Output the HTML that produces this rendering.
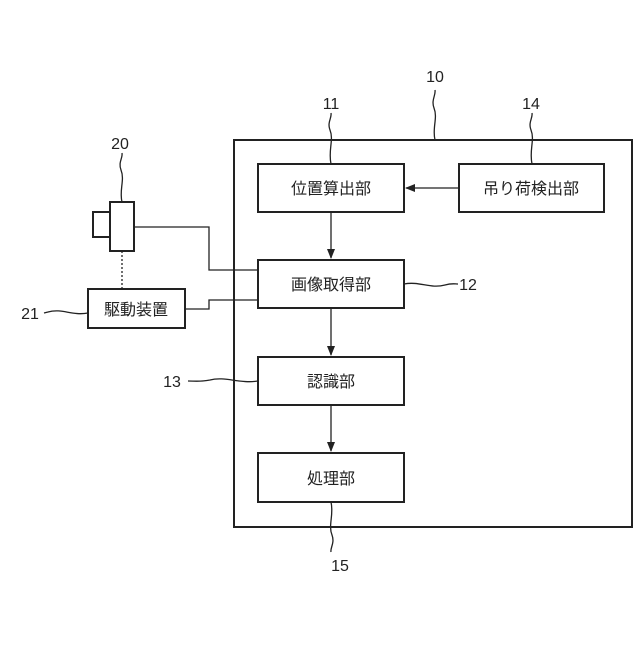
<!DOCTYPE html>
<html><head><meta charset="utf-8"><style>
body{margin:0;background:#fff}
svg text{font-family:"Liberation Sans","Noto Sans CJK JP",sans-serif;fill:#222}
</style></head><body>
<svg width="640" height="640" viewBox="0 0 640 640" xmlns="http://www.w3.org/2000/svg">
<defs><marker id="a" markerWidth="10" markerHeight="8" refX="9" refY="4" orient="auto" markerUnits="userSpaceOnUse"><path d="M0,0 L10,4 L0,8 z" fill="#222"/></marker></defs>
<g fill="none" stroke="#222" stroke-width="2">
<rect x="234" y="140" width="398" height="387"/>
<rect x="258" y="164" width="146" height="48"/>
<rect x="459" y="164" width="145" height="48"/>
<rect x="258" y="260" width="146" height="48"/>
<rect x="258" y="357" width="146" height="48"/>
<rect x="258" y="453" width="146" height="49"/>
<rect x="110" y="202" width="24" height="49"/>
<rect x="93" y="212" width="17" height="25"/>
<rect x="88" y="289" width="97" height="39"/>
</g>
<g fill="none" stroke="#222" stroke-width="1.3">
<line x1="459" y1="188" x2="406" y2="188" marker-end="url(#a)"/>
<line x1="331" y1="212" x2="331" y2="258" marker-end="url(#a)"/>
<line x1="331" y1="308" x2="331" y2="355" marker-end="url(#a)"/>
<line x1="331" y1="405" x2="331" y2="451" marker-end="url(#a)"/>
<polyline points="134,227 209,227 209,270 258,270"/>
<polyline points="185,309 209,309 209,300 258,300"/>
<line x1="122" y1="251" x2="122" y2="289" stroke-dasharray="2,2"/>
<path d="M435,140 C432,128 438,118 434,108 C431,100 436,95 435,90"/>
<path d="M331,164 C328,150 334,140 330,130 C327,122 332,118 331,113"/>
<path d="M532,164 C529,150 535,140 531,130 C528,122 533,118 532,113"/>
<path d="M122,202 C119,190 125,180 121,170 C118,162 123,158 122,153"/>
<path d="M404,284 C420,281 430,289 445,285 C452,283 455,284 458,284"/>
<path d="M88,313 C72,316 62,308 48,312 L44,313" />
<path d="M258,381 C240,384 225,376 210,380 C200,382 195,381 188,381"/>
<path d="M331,502 C334,515 328,525 332,535 C335,543 330,548 331,552"/>
</g>
<g font-size="16" text-anchor="middle">
<text x="331" y="194">位置算出部</text>
<text x="531" y="194">吊り荷検出部</text>
<text x="331" y="290">画像取得部</text>
<text x="331" y="387">認識部</text>
<text x="331" y="484">処理部</text>
<text x="136" y="315">駆動装置</text>
</g>
<g font-size="16" text-anchor="middle">
<text x="435" y="82">10</text>
<text x="331" y="109">11</text>
<text x="531" y="109">14</text>
<text x="120" y="149">20</text>
<text x="30" y="319">21</text>
<text x="468" y="290">12</text>
<text x="172" y="387">13</text>
<text x="340" y="571">15</text>
</g>
</svg>
</body></html>
